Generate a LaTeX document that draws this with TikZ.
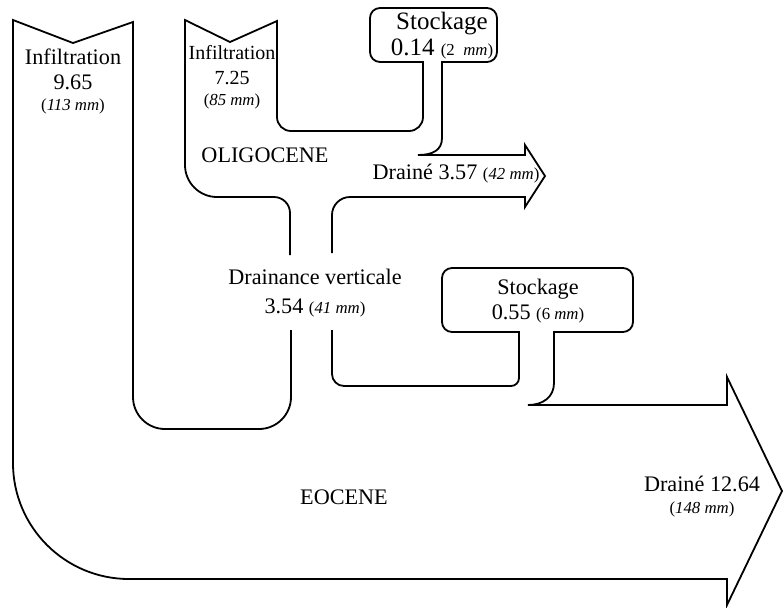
\documentclass[tikz,border=0pt]{standalone}
\usepackage{fontspec}
\setmainfont{Liberation Serif}
\usepackage{tikz}

\newcommand{\sm}[1]{{\fontsize{8.4}{10}\selectfont #1}}

\begin{document}
\begin{tikzpicture}[x=0.5pt,y=-0.5pt,
    outline/.style={line width=0.9pt, line join=miter},
    lbl/.style={inner sep=0pt, align=center, font=\fontsize{11.1}{12.5}\selectfont}]
    \useasboundingbox (0,0) rectangle (784,607);

    % upper part: oligocene, stockage 1, draine 1
    \draw[outline] (290,255) [rounded corners=8pt] -- (290,197)
        [rounded corners=16pt] -- (185,197)
        [sharp corners] -- (185,20) -- (230,42) -- (277,21)
        [rounded corners=7pt] -- (277,131) -- (423,131)
        [sharp corners] -- (423,62)
        [rounded corners=5pt] -- (370,62) -- (370,8) -- (497,8) -- (497,62)
        [sharp corners] -- (442,62) -- (442,138) .. controls (442,150) and (433,155) .. (418,155)
        -- (525,155) -- (525,145) -- (545,176) -- (525,207) -- (525,197)
        [rounded corners=9pt] -- (332,197)
        [sharp corners] -- (332,253);

    % lower part: stockage 2, eocene, draine 2
    \draw[outline] (332,330) [rounded corners=6pt] -- (332,386)
        [rounded corners=4pt] -- (519,386)
        [sharp corners] -- (519,332)
        [rounded corners=5pt] -- (442,332) -- (442,268) -- (633,268) -- (633,332)
        [sharp corners] -- (554,332) -- (554,383) .. controls (554,397) and (543,405) .. (528,405)
        -- (727,405) -- (727,377) -- (782,491) -- (727,605) -- (727,579)
        [rounded corners=58pt] -- (13,579)
        [sharp corners] -- (13,20) -- (73,43) -- (133,22)
        [rounded corners=16pt] -- (133,429) -- (291,429)
        [sharp corners] -- (291,330);

    \node[lbl] (infeo) at (73,81) {Infiltration\\9.65\\[-2pt]\sm{(\textit{113 mm})}};
    \node[lbl, font=\fontsize{10}{12.5}\selectfont] (infol) at (232,77) {Infiltration\\7.25\\[-2pt]\sm{(\textit{85 mm})}};
    \node[lbl, font=\fontsize{12.5}{13}\selectfont] (stock1) at (442,36) {Stockage\\0.14 \sm{(2\ \ \textit{mm})}};
    \node[lbl] (olig) at (265,155) {OLIGOCENE};
    \node[lbl] (drn1) at (456,174) {Drainé 3.57 \sm{(\textit{42 mm})}};
    \node[lbl] (vert) at (315,293) {Drainance verticale\\[2pt]3.54 \sm{(\textit{41 mm})}};
    \node[lbl] (stock2) at (538,301) {Stockage\\0.55 \sm{(6 \textit{mm})}};
    \node[lbl] (eoc) at (344,497) {EOCENE};
    \node[lbl] (drn2) at (702,497) {Drainé 12.64\\[-1.5pt]\sm{(\textit{148 mm})}};
\end{tikzpicture}
\end{document}
